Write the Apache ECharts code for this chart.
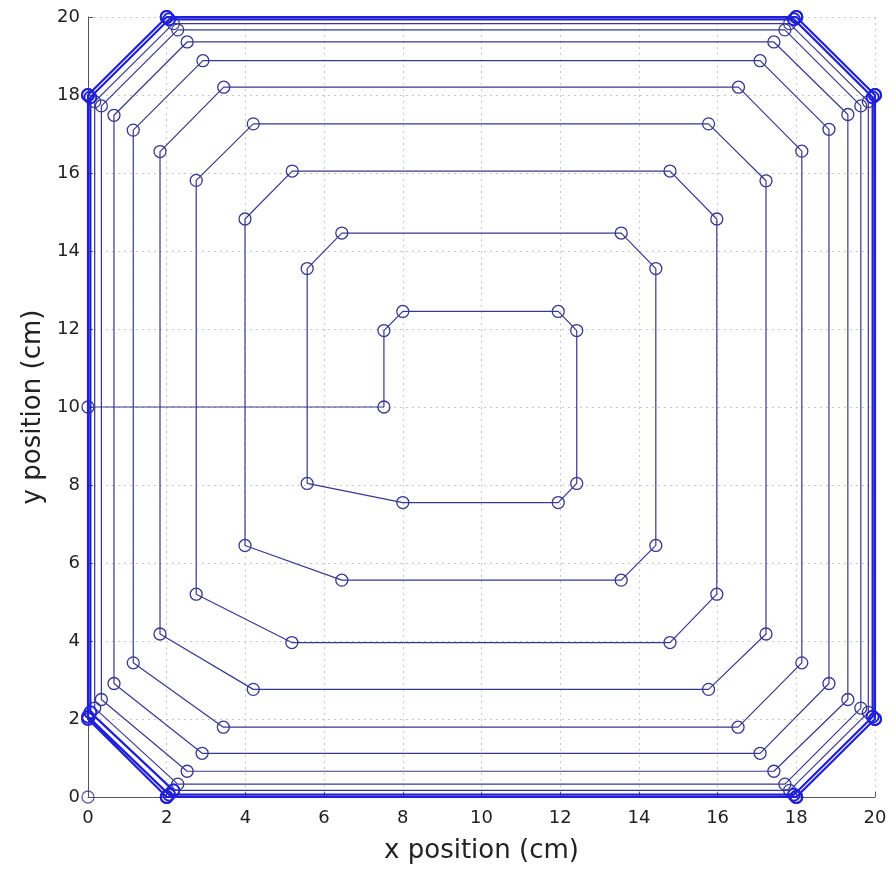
<!DOCTYPE html>
<html>
<head>
<meta charset="utf-8">
<script src="https://cdn.jsdelivr.net/npm/echarts@6/dist/echarts.min.js"></script>
<style>
html,body{margin:0;padding:0;background:#fff;}
#chart{width:895px;height:869px;}
</style>
</head>
<body>
<div id="chart"></div>
<script>
// Tick labels
var xTicks = [0, 2, 4, 6, 8, 10, 12, 14, 16, 18, 20];
var yTicks = [0, 2, 4, 6, 8, 10, 12, 14, 16, 18, 20];

// Start marker
var startX = [0];
var startY = [0];

// Spiral path (from the centre entry outward)
var spiralX = [0, 7.52,
  7.52, 8.0, 11.95, 12.42, 12.42, 11.95, 8.0,
  5.57, 5.57, 6.45, 13.55, 14.43, 14.43, 13.55, 6.45,
  3.99, 3.99, 5.19, 14.79, 15.98, 15.98, 14.79, 5.18,
  2.75, 2.75, 4.2, 15.77, 17.23, 17.23, 15.77, 4.2,
  1.83, 1.83, 3.45, 16.53, 18.14, 18.14, 16.52, 3.44,
  1.15, 1.15, 2.92, 17.08, 18.83, 18.83, 17.08, 2.9,
  0.66, 0.66, 2.52, 17.43, 19.31, 19.31, 17.43, 2.52,
  0.34, 0.34, 2.28, 17.71, 19.64, 19.64, 17.71, 2.28,
  0.17, 0.17, 2.17, 17.83, 19.83, 19.83, 17.83, 2.17];
var spiralY = [10, 10,
  11.96, 12.45, 12.45, 11.96, 8.04, 7.55, 7.55,
  8.04, 13.55, 14.46, 14.46, 13.55, 6.45, 5.56, 5.56,
  6.45, 14.82, 16.05, 16.05, 14.82, 5.2, 3.96, 3.96,
  5.2, 15.81, 17.26, 17.26, 15.8, 4.18, 2.76, 2.76,
  4.18, 16.55, 18.2, 18.2, 16.56, 3.44, 1.79, 1.79,
  3.44, 17.1, 18.88, 18.88, 17.12, 2.91, 1.12, 1.12,
  2.91, 17.48, 19.36, 19.36, 17.5, 2.5, 0.66, 0.66,
  2.5, 17.72, 19.67, 19.67, 17.72, 2.28, 0.33, 0.33,
  2.28, 17.83, 19.83, 19.83, 17.83, 2.17, 0.17, 0.17];

// Outermost loops hugging the boundary (continuation of the spiral)
var outerX = [2.17,
  0.06, 0.06, 2.06, 17.94, 19.94, 19.94, 17.94, 2.06,
  0, 0, 2, 18, 20, 20, 18, 2,
  0, 0, 2, 18, 20, 20, 18, 2];
var outerY = [0.17,
  2.17, 17.94, 19.94, 19.94, 17.94, 2.06, 0.06, 0.06,
  2.06, 18, 20, 20, 18, 2, 0, 0,
  2, 18, 20, 20, 18, 2, 0, 0];

function pairs(xs, ys) {
  var out = [];
  for (var i = 0; i < xs.length; i++) out.push([xs[i], ys[i]]);
  return out;
}

var chart = echarts.init(document.getElementById('chart'), null, {renderer: 'canvas'});
var font = 'DejaVu Sans';
function axis(name, ticks, isX) {
  return {
    type: 'value',
    min: ticks[0],
    max: ticks[ticks.length - 1],
    interval: ticks[1] - ticks[0],
    name: name,
    nameLocation: 'middle',
    nameGap: isX ? 41 : 40,
    nameTextStyle: {fontFamily: font, fontSize: 26, color: '#222'},
    axisLine: {show: true, onZero: false, lineStyle: {color: '#555', width: 1}},
    axisTick: {show: true, inside: true, length: 5, lineStyle: {color: '#555'}},
    axisLabel: {fontFamily: font, fontSize: 18, color: '#222', margin: isX ? 12 : 8},
    splitLine: {show: true, lineStyle: {color: '#c8c8c8', type: [2, 4], width: 1}}
  };
}

var lineCol = '#383890';
var outerCol = '#2020d8';

chart.setOption({
  animation: false,
  backgroundColor: '#ffffff',
  grid: {left: 88, right: 20, top: 17, bottom: 68, containLabel: false},
  xAxis: axis('x position (cm)', xTicks, true),
  yAxis: axis('y position (cm)', yTicks, false),
  series: [
    {
      type: 'line',
      data: pairs(spiralX, spiralY),
      clip: false,
      symbol: 'circle',
      symbolSize: 12,
      showSymbol: true,
      lineStyle: {color: lineCol, width: 1.2},
      itemStyle: {color: 'rgba(255,255,255,0)', borderColor: lineCol, borderWidth: 1.3},
      z: 2
    },
    {
      type: 'line',
      data: pairs(outerX, outerY),
      clip: false,
      symbol: 'circle',
      symbolSize: 12,
      showSymbol: true,
      lineStyle: {color: outerCol, width: 2.2},
      itemStyle: {color: 'rgba(255,255,255,0)', borderColor: outerCol, borderWidth: 2},
      z: 3
    },
    {
      type: 'scatter',
      data: pairs(startX, startY),
      clip: false,
      symbol: 'circle',
      symbolSize: 12,
      itemStyle: {color: 'rgba(255,255,255,0)', borderColor: lineCol, borderWidth: 1.3},
      z: 3
    }
  ]
});
</script>
</body>
</html>
